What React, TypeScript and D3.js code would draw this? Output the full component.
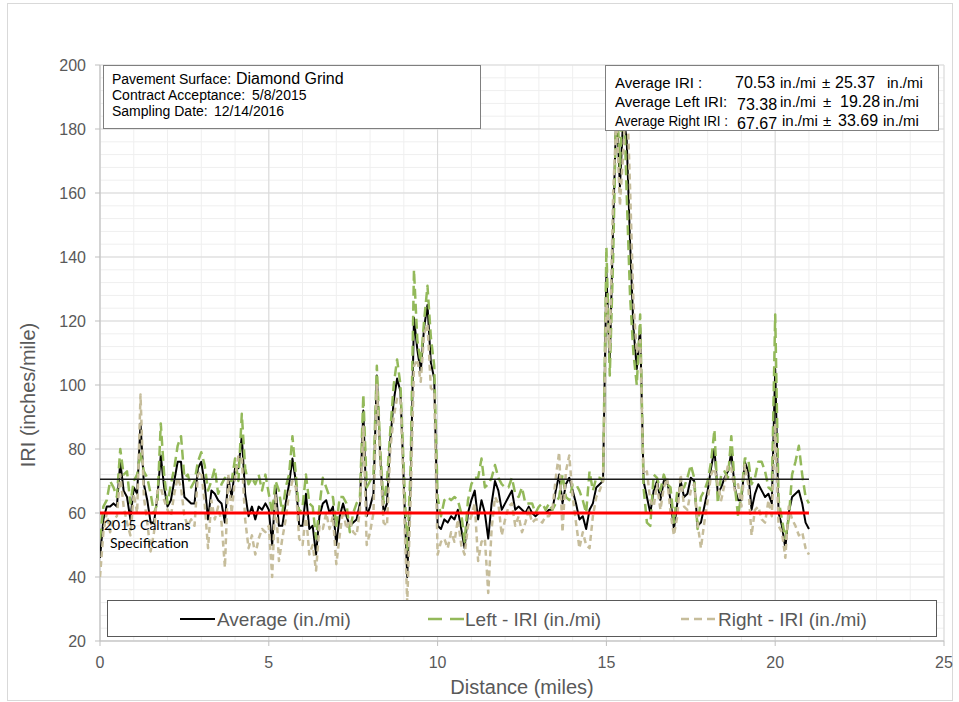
import React from "react";
import * as d3 from "d3";

// ---------- data ----------
const START_MILE = 0;
const STEP_MILE = 0.1;

const AVERAGE = [
  46, 58, 62, 62, 63, 62, 76, 67, 65, 58,
  68, 66, 88, 69, 64, 57, 57, 65, 78, 68,
  62, 64, 70, 76, 76, 65, 64, 63, 63, 74,
  76, 69, 58, 67, 66, 64, 63, 57, 71, 65,
  74, 74, 84, 66, 59, 62, 58, 62, 61, 63,
  61, 50, 68, 56, 56, 63, 69, 77, 70, 56,
  56, 66, 55, 56, 47, 59, 63, 64, 60, 62,
  50, 59, 63, 59, 56, 57, 58, 63, 92, 59,
  62, 66, 103, 78, 60, 63, 83, 95, 102, 98,
  69, 40, 69, 121, 111, 104, 118, 125, 107, 102,
  56, 55, 58, 57, 59, 58, 61, 55, 49, 60,
  64, 67, 58, 64, 60, 52, 63, 70, 67, 61,
  63, 65, 67, 61, 62, 61, 60, 62, 60, 59,
  60, 60, 60, 61, 61, 67, 72, 63, 69, 71,
  67, 63, 58, 59, 55, 61, 63, 68, 69, 70,
  135, 107, 150, 188, 162, 184, 177, 145, 118, 105,
  118, 70, 65, 60, 67, 70, 64, 70, 70, 64,
  55, 63, 70, 65, 66, 71, 70, 56, 57, 62,
  67, 74, 80, 66, 68, 71, 73, 79, 68, 64,
  64, 76, 73, 61, 66, 69, 67, 65, 66, 63,
  105, 60, 56, 49, 60, 65, 66, 67, 63, 57,
  55,
];

const LEFT = [
  52, 62, 64, 70, 68, 65, 80, 72, 73, 63,
  70, 72, 79, 73, 71, 66, 60, 63, 88, 72,
  63, 69, 74, 81, 84, 71, 72, 68, 70, 76,
  79, 75, 67, 70, 74, 66, 69, 71, 70, 70,
  77, 70, 91, 74, 69, 71, 69, 72, 67, 72,
  66, 60, 70, 67, 60, 68, 72, 84, 72, 60,
  62, 72, 63, 62, 52, 62, 71, 68, 65, 65,
  56, 65, 65, 63, 54, 60, 63, 65, 97, 68,
  70, 72, 106, 80, 63, 70, 86, 100, 108, 100,
  73, 48, 74, 136, 114, 107, 120, 131, 115, 106,
  65, 59, 64, 65, 64, 65, 64, 60, 51, 64,
  69, 71, 71, 77, 68, 69, 71, 75, 71, 69,
  68, 68, 71, 66, 65, 68, 63, 63, 63, 60,
  62, 63, 61, 63, 61, 63, 65, 72, 65, 64,
  69, 69, 67, 64, 60, 73, 67, 71, 71, 70,
  143, 103, 140, 192, 168, 195, 160, 128, 110, 100,
  122, 68, 57, 56, 72, 71, 67, 72, 69, 68,
  57, 67, 68, 68, 71, 75, 71, 55, 65, 67,
  70, 76, 86, 63, 72, 73, 71, 84, 69, 59,
  66, 77, 77, 69, 71, 76, 76, 73, 68, 67,
  122, 64, 58, 52, 58, 72, 76, 81, 72, 65,
  63,
];

const RIGHT = [
  40, 54, 60, 54, 58, 59, 72, 62, 57, 53,
  66, 60, 97, 65, 57, 48, 54, 67, 68, 64,
  61, 59, 66, 71, 68, 59, 56, 58, 56, 72,
  73, 63, 49, 64, 58, 62, 57, 43, 72, 60,
  71, 78, 77, 58, 49, 53, 47, 52, 55, 54,
  56, 40, 66, 45, 52, 58, 66, 70, 68, 52,
  50, 60, 47, 50, 42, 56, 55, 60, 55, 59,
  44, 53, 61, 55, 58, 54, 53, 61, 87, 50,
  54, 60, 100, 76, 57, 56, 80, 90, 96, 96,
  65, 32, 64, 106, 108, 101, 116, 119, 99, 98,
  47, 51, 52, 49, 54, 51, 58, 50, 47, 56,
  59, 63, 45, 51, 52, 35, 55, 65, 63, 53,
  58, 62, 63, 56, 59, 54, 57, 61, 57, 58,
  58, 57, 59, 59, 61, 71, 79, 54, 73, 78,
  65, 57, 49, 54, 50, 49, 59, 65, 67, 70,
  127, 111, 160, 184, 156, 173, 194, 162, 126, 110,
  114, 72, 73, 64, 62, 69, 61, 68, 71, 60,
  53, 59, 72, 62, 61, 67, 69, 57, 49, 57,
  64, 72, 74, 69, 64, 69, 75, 74, 67, 69,
  62, 75, 69, 53, 61, 62, 58, 57, 64, 59,
  88, 56, 54, 46, 62, 58, 56, 53, 54, 49,
  47,
];

const SPEC_VALUE = 60;
const AVG_IRI_VALUE = 70.53;

const X_TICKS = [0, 5, 10, 15, 20, 25];
const Y_TICKS = [20, 40, 60, 80, 100, 120, 140, 160, 180, 200];

const STAT_LABELS = ["Average IRI :", "Average Left IRI:", "Average Right IRI :"];
const STAT_MEANS = ["70.53", "73.38", "67.67"];
const STAT_SDS = ["25.37", "19.28", "33.69"];

const INFO_LABELS = ["Pavement Surface:", "Contract Acceptance:", "Sampling Date:"];
const INFO_VALUES = ["Diamond Grind", "5/8/2015", "12/14/2016"];

const LEGEND_LABELS = ["Average (in./mi)", "Left - IRI (in./mi)", "Right - IRI (in./mi)"];

// ---------- layout ----------
const W = 959;
const H = 702;
const PL = 100, PR = 944, PT = 65, PB = 641;
const FONT = "'Liberation Sans', Arial, sans-serif";
const GRAY = "#595959";

const COL_AVG = "#000000";
const COL_LEFT = "#93B95A";
const COL_RIGHT = "#C6BD9B";

export default function App() {
  const x = d3.scaleLinear().domain([0, 25]).range([PL, PR]);
  const y = d3.scaleLinear().domain([20, 200]).range([PB, PT]);

  const miles = AVERAGE.map((_, i) => +(START_MILE + i * STEP_MILE).toFixed(1));
  const lastMile = miles[miles.length - 1];

  const line = d3
    .line<number>()
    .x((_, i) => x(miles[i]))
    .y((d) => y(d));

  const minorX = d3.range(0, 26, 1);
  const minorY = d3.range(20, 201, 4);

  const legendX = [180, 428, 681];
  const legendY = 619;

  const statBase = [88, 107, 126];
  const meanX = [735, 737, 737];
  const meanDy = [0, 3, 3];
  const unit1X = [780, 780, 782];
  const pmX = [822, 823, 823];
  const sdX = [835, 840, 838];
  const unit2X = [887, 883, 883];
  const labelLen = [null, null, 113];

  return (
    <svg
      width={W}
      height={H}
      viewBox={`0 0 ${W} ${H}`}
      style={{ position: "absolute", left: 0, top: 0, background: "#fff" }}
      fontFamily={FONT}
    >
      <rect x={0} y={0} width={W} height={H} fill="#fff" />
      <rect x={7.5} y={3.5} width={945} height={697} fill="none" stroke="#D9D9D9" strokeWidth={1} />

      <defs>
        <clipPath id="plotClip">
          <rect x={PL} y={PT} width={PR - PL} height={PB - PT} />
        </clipPath>
      </defs>

      {/* minor gridlines */}
      <g stroke="#EFEFEF" strokeWidth={1}>
        {minorX.map((v) => (
          <line key={"mx" + v} x1={x(v)} x2={x(v)} y1={PT} y2={PB} />
        ))}
        {minorY.map((v) => (
          <line key={"my" + v} x1={PL} x2={PR} y1={y(v)} y2={y(v)} />
        ))}
      </g>
      {/* major gridlines */}
      <g stroke="#D9D9D9" strokeWidth={1}>
        {X_TICKS.map((v) => (
          <line key={"Mx" + v} x1={x(v)} x2={x(v)} y1={PT} y2={PB} />
        ))}
        {Y_TICKS.map((v) => (
          <line key={"My" + v} x1={PL} x2={PR} y1={y(v)} y2={y(v)} />
        ))}
      </g>

      {/* axes */}
      <g stroke="#BFBFBF" strokeWidth={1}>
        <line x1={PL} x2={PL} y1={PT} y2={PB} />
        <line x1={PL} x2={PR} y1={PB} y2={PB} />
        {Y_TICKS.map((v) => (
          <line key={"ty" + v} x1={PL - 5} x2={PL} y1={y(v)} y2={y(v)} />
        ))}
        {X_TICKS.map((v) => (
          <line key={"tx" + v} x1={x(v)} x2={x(v)} y1={PB} y2={PB + 5} />
        ))}
      </g>

      {/* tick labels */}
      <g fill={GRAY} fontSize={16}>
        {Y_TICKS.map((v) => (
          <text key={"ly" + v} x={PL - 14} y={y(v)} dy="0.36em" textAnchor="end">
            {v}
          </text>
        ))}
        {X_TICKS.map((v) => (
          <text key={"lx" + v} x={x(v)} y={PB + 27} textAnchor="middle">
            {v}
          </text>
        ))}
      </g>

      {/* axis titles */}
      <text x={522} y={694} textAnchor="middle" fontSize={20} fill={GRAY}>
        Distance (miles)
      </text>
      <text
        transform={`translate(35, 395) rotate(-90)`}
        textAnchor="middle"
        fontSize={20}
        fill={GRAY}
      >
        IRI (inches/mile)
      </text>

      {/* data series */}
      <g clipPath="url(#plotClip)" fill="none" strokeLinejoin="round">
        <path d={line(AVERAGE) || ""} stroke={COL_AVG} strokeWidth={2} />
        <path d={line(LEFT) || ""} stroke={COL_LEFT} strokeWidth={2.5} strokeDasharray="10 5" />
        <path d={line(RIGHT) || ""} stroke={COL_RIGHT} strokeWidth={2.5} strokeDasharray="6 4" />
      </g>

      {/* reference lines */}
      <line x1={x(0)} x2={x(lastMile)} y1={y(AVG_IRI_VALUE)} y2={y(AVG_IRI_VALUE)} stroke="#1a1a1a" strokeWidth={1.5} />
      <line x1={x(0)} x2={x(lastMile)} y1={y(SPEC_VALUE)} y2={y(SPEC_VALUE)} stroke="#FF0000" strokeWidth={3} />

      <text x={104} y={530} fontSize={14} fontFamily="Lato, 'Liberation Sans', sans-serif" fill="#000">
        2015 Caltrans
      </text>
      <text x={110} y={548} fontSize={14} fontFamily="Lato, 'Liberation Sans', sans-serif" fill="#000">
        Specification
      </text>

      {/* info box */}
      <rect x={103.5} y={65.5} width={377} height={63} fill="#fff" stroke="#7F7F7F" strokeWidth={1} />
      <g fill="#000" fontSize={14}>
        <text x={112} y={84}>{INFO_LABELS[0]}</text>
        <text x={236} y={84} fontSize={16}>{INFO_VALUES[0]}</text>
        <text x={112} y={100}>{INFO_LABELS[1]}</text>
        <text x={252} y={100}>{INFO_VALUES[1]}</text>
        <text x={112} y={116}>{INFO_LABELS[2]}</text>
        <text x={214} y={116}>{INFO_VALUES[2]}</text>
      </g>

      {/* stats box */}
      <rect x={605.5} y={65.5} width={333} height={65} fill="#fff" stroke="#7F7F7F" strokeWidth={1} />
      <g fill="#000" fontSize={15}>
        {STAT_LABELS.map((lab, i) => (
          <g key={"st" + i}>
            {labelLen[i] ? (
              <text x={615} y={statBase[i]} textLength={labelLen[i] as number} lengthAdjust="spacingAndGlyphs">
                {lab}
              </text>
            ) : (
              <text x={615} y={statBase[i]}>{lab}</text>
            )}
            <text x={meanX[i]} y={statBase[i] + meanDy[i]} fontSize={16}>{STAT_MEANS[i]}</text>
            <text x={unit1X[i]} y={statBase[i]}>in./mi</text>
            <text x={pmX[i]} y={statBase[i]}>±</text>
            <text x={sdX[i]} y={statBase[i]} fontSize={16}>{STAT_SDS[i]}</text>
            <text x={unit2X[i]} y={statBase[i]}>in./mi</text>
          </g>
        ))}
      </g>

      {/* legend */}
      <rect x={107.5} y={600.5} width={829} height={36} fill="#fff" stroke="#595959" strokeWidth={1} />
      <line x1={legendX[0]} x2={legendX[0] + 35} y1={legendY} y2={legendY} stroke={COL_AVG} strokeWidth={2} />
      <line x1={legendX[1]} x2={legendX[1] + 36} y1={legendY} y2={legendY} stroke={COL_LEFT} strokeWidth={2.5} strokeDasharray="14 8" />
      <line x1={legendX[2]} x2={legendX[2] + 35} y1={legendY} y2={legendY} stroke={COL_RIGHT} strokeWidth={2.5} strokeDasharray="8 5" />
      <g fill={GRAY} fontSize={19}>
        {LEGEND_LABELS.map((lab, i) => (
          <text key={"lg" + i} x={legendX[i] + 37} y={legendY + 7}>
            {lab}
          </text>
        ))}
      </g>
    </svg>
  );
}
